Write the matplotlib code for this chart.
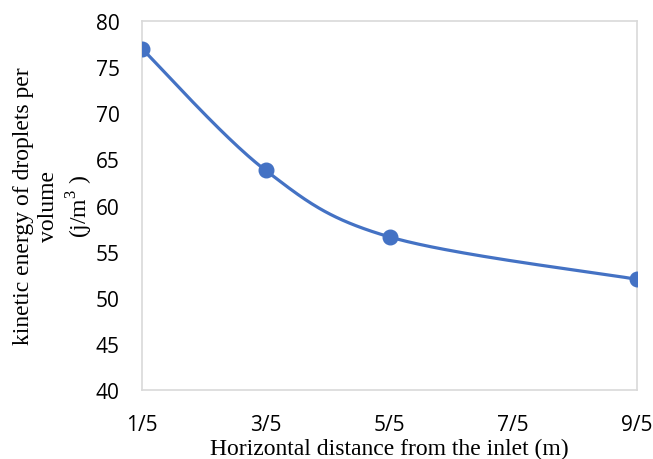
import numpy as np
import matplotlib
matplotlib.use("Agg")
import matplotlib.pyplot as plt

x_vals = [0.2, 0.6, 1.0, 1.8]
y_vals = [77.0, 63.8, 56.6, 52.0]
tick_pos = [0.2, 0.6, 1.0, 1.4, 1.8]
tick_labels = ["1/5", "3/5", "5/5", "7/5", "9/5"]

def excel_smooth(xs, ys, n=60):
    xs = np.asarray(xs, float); ys = np.asarray(ys, float)
    P = np.column_stack([xs, ys])
    out = []
    for i in range(len(P) - 1):
        p0 = P[i - 1] if i > 0 else P[i]
        p1 = P[i]; p2 = P[i + 1]
        p3 = P[i + 2] if i + 2 < len(P) else P[i + 1]
        c1 = p1 + (p2 - p0) / 6.0
        c2 = p2 - (p3 - p1) / 6.0
        t = np.linspace(0, 1, n)[:, None]
        seg = (1 - t) ** 3 * p1 + 3 * (1 - t) ** 2 * t * c1 + 3 * (1 - t) * t ** 2 * c2 + t ** 3 * p2
        out.append(seg)
    arr = np.vstack(out)
    return arr[:, 0], arr[:, 1]

fig = plt.figure(figsize=(6.53, 4.60), dpi=100)
ax = fig.add_axes([0.2175, 0.15, 0.758, 0.802])

sx, sy = excel_smooth(x_vals, y_vals)
color = "#4472C4"
ax.plot(sx, sy, color=color, lw=2.3, solid_capstyle="round", zorder=3)
ax.plot(x_vals, y_vals, "o", color=color, markersize=10.5, zorder=4)

ax.set_xlim(0.2, 1.8)
ax.set_ylim(40, 80)
ax.set_xticks(tick_pos)
ax.set_xticklabels(tick_labels)
ax.set_yticks(range(40, 81, 5))
ax.tick_params(length=0, labelsize=15, colors="#000000")
ax.tick_params(axis="y", pad=16)
ax.tick_params(axis="x", pad=17)
for lab in ax.get_xticklabels() + ax.get_yticklabels():
    lab.set_family("Open Sans")
for s in ax.spines.values():
    s.set_color("#D9D9D9")
    s.set_linewidth(1.2)

ax.set_xlabel("Horizontal distance from the inlet (m)", family="Liberation Serif", fontsize=17, labelpad=2)
ax.set_ylabel("kinetic energy of droplets per\nvolume\n(j/m$^{\\mathregular{3}}$ )", family="Liberation Serif",
              fontsize=17, linespacing=1.25)
ax.yaxis.set_label_coords(-0.095, 0.5)

fig.savefig("out.png", dpi=100)
